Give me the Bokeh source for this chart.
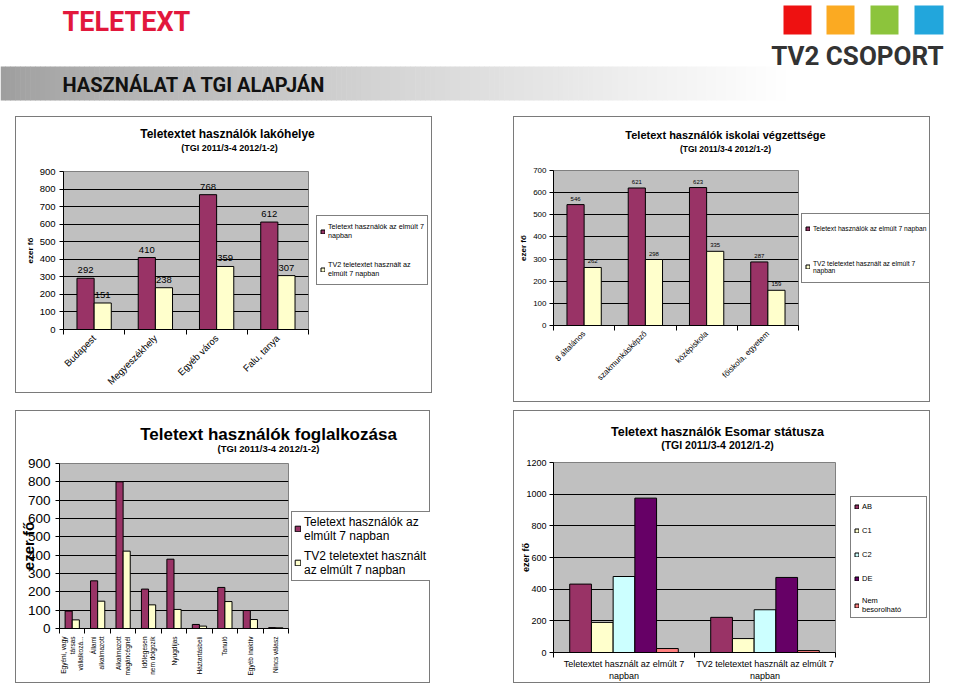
import math
import numpy as np
from bokeh.plotting import figure
from bokeh.models import (Range1d, FixedTicker, Legend, LegendItem,
                          ColumnDataSource, Spacer)
from bokeh.layouts import column, row
from bokeh.embed import file_html
from bokeh.resources import INLINE
from bokeh.core.properties import value

# ---------------- data ----------------
lak_categories = ["Budapest", "Megyeszékhely", "Egyéb város", "Falu, tanya"]
lak_teletext = [292, 410, 768, 612]
lak_tv2 = [151, 238, 359, 307]

isk_categories = ["8 általános", "szakmunkásképző", "középiskola", "főiskola, egyetem"]
isk_teletext = [546, 621, 623, 287]
isk_tv2 = [262, 298, 335, 159]

fog_categories = ["Egyéni, vagy\ntársas\nvállalkozá...", "Állami\nalkalmazott",
                  "Alkalmazott\nmagáncégnél", "Időlegesen\nnem dolgozik", "Nyugdíjas",
                  "Háztartásbeli", "Tanuló", "Egyéb inaktív", "Nincs válasz"]
fog_teletext = [95, 260, 800, 215, 378, 22, 224, 98, 5]
fog_tv2 = [47, 149, 422, 129, 104, 13, 147, 49, 4]

eso_groups = ["Teletextet használt az elmúlt 7\nnapban",
              "TV2 teletextet használt az elmúlt 7\nnapban"]
eso_status = ["AB", "C1", "C2", "DE", "Nem\nbesorolható"]
eso_AB = [432, 222]
eso_C1 = [190, 88]
eso_C2 = [480, 270]
eso_DE = [975, 474]
eso_nem = [25, 12]

lak_series = ["Teletext használók az elmúlt 7\nnapban", "TV2 teletextet használt az\nelmúlt 7 napban"]
isk_series = ["Teletext használók az elmúlt 7 napban", "TV2 teletextet használt az elmúlt 7\nnapban"]
fog_series = ["Teletext használók az\nelmúlt 7 napban", "TV2 teletextet használt\naz elmúlt 7 napban"]

subtitle_text = "(TGI 2011/3-4 2012/1-2)"

# ---------------- styles ----------------
SANS = "Liberation Sans"
HEAD = "Roboto"
MAROON = "#993366"
CREAM = "#ffffcc"
CYAN = "#ccffff"
PURPLE = "#660066"
SALMON = "#ff8080"
PLOT_BG = "#c0c0c0"
BORDER = "1px solid #7a7a7a"


def deco_fig(w, h, sides):
    st = {"box-sizing": "border-box"}
    for s in sides:
        st[f"border-{s}"] = BORDER
    f = figure(width=w, height=h, x_range=Range1d(0, w), y_range=Range1d(h, 0),
               x_axis_type=None, y_axis_type=None, output_backend="svg",
               toolbar_location=None, min_border=0, outline_line_color=None,
               border_fill_color="white", background_fill_color="white")
    f.styles = st
    return f


def title_fig(w, h, title, tsize, tpos, ssize, spos):
    f = deco_fig(w, h, ["top", "left", "right"])
    f.text(x=[tpos[0]], y=[tpos[1]], text=[title], text_font=value(SANS),
           text_font_size=f"{tsize}px", text_font_style="bold", text_color="black",
           text_align="center", text_baseline="middle")
    f.text(x=[spos[0]], y=[spos[1]], text=[subtitle_text], text_font=value(SANS),
           text_font_size=f"{ssize}px", text_font_style="bold", text_color="black",
           text_align="center", text_baseline="middle")
    return f


def chart(w, h, fl, fr, ft, fb, ncat, ymax, ystep, tick_size, tick_standoff):
    p = figure(width=w, height=h, x_range=Range1d(0, ncat), y_range=Range1d(0, ymax),
               output_backend="svg", toolbar_location=None, title=None,
               min_border_left=fl, min_border_right=fr, min_border_top=ft, min_border_bottom=fb,
               background_fill_color=PLOT_BG, border_fill_color="white",
               outline_line_color="#808080")
    p.styles = {"border-left": BORDER, "border-bottom": BORDER, "box-sizing": "border-box"}
    yt = FixedTicker(ticks=list(range(0, ymax + 1, ystep)), minor_ticks=[])
    p.yaxis.ticker = yt
    p.ygrid.ticker = yt
    p.ygrid.grid_line_color = "black"
    p.ygrid.grid_line_width = 1
    p.xgrid.grid_line_color = None
    xt = FixedTicker(ticks=[i + 0.5 for i in range(ncat)], minor_ticks=list(range(ncat + 1)))
    p.xaxis.ticker = xt
    p.axis.axis_line_color = "black"
    p.axis.major_label_text_color = "black"
    p.yaxis.major_tick_out = 4
    p.yaxis.major_tick_in = 0
    p.yaxis.major_tick_line_color = "black"
    p.yaxis.minor_tick_line_color = None
    p.yaxis.major_label_text_font = SANS
    p.yaxis.major_label_text_font_size = f"{tick_size}px"
    p.yaxis.major_label_standoff = tick_standoff
    p.xaxis.major_tick_line_color = None
    p.xaxis.major_tick_out = 5
    p.xaxis.major_tick_in = 0
    p.xaxis.minor_tick_line_color = "black"
    p.xaxis.minor_tick_out = 5
    p.xaxis.minor_tick_in = 0
    return p


def set_xlabels(p, cats, size, orientation, standoff=2):
    p.xaxis.major_label_overrides = {i + 0.5: c for i, c in enumerate(cats)}
    p.xaxis.major_label_text_font = SANS
    p.xaxis.major_label_text_font_size = f"{size}px"
    p.xaxis.major_label_orientation = orientation
    p.xaxis.major_label_standoff = standoff


def set_ylabel(p, size, standoff):
    p.yaxis.axis_label = "ezer fő"
    p.yaxis.axis_label_text_font = SANS
    p.yaxis.axis_label_text_font_size = f"{size}px"
    p.yaxis.axis_label_text_font_style = "bold"
    p.yaxis.axis_label_text_color = "black"
    p.yaxis.axis_label_standoff = standoff


def bars(p, vals, offset, width, color):
    src = ColumnDataSource(dict(x=[i + offset for i in range(len(vals))], top=vals))
    return p.vbar(x="x", top="top", bottom=0, width=width, source=src,
                  fill_color=color, line_color="black", line_width=1)


def value_labels(p, vals, offset, size, dy):
    src = ColumnDataSource(dict(x=[i + offset for i in range(len(vals))], y=vals,
                                t=[str(v) for v in vals]))
    p.text(x="x", y="y", text="t", source=src, text_align="center",
           text_baseline="middle", y_offset=dy, text_font=value(SANS),
           text_font_size=f"{size}px", text_color="black")


def legend_fig(w, h, bottom, labels, series, colors, size, glyph, padding, spacing, margin,
               label_height, label_width):
    # the legend's swatches come from renderers of the real series, kept outside the view
    f = figure(width=w, height=h, x_range=Range1d(-20, -19), y_range=Range1d(0, 1),
               x_axis_type=None, y_axis_type=None, output_backend="svg",
               toolbar_location=None, min_border_left=0, min_border_right=0,
               min_border_top=0, min_border_bottom=bottom, outline_line_color=None,
               border_fill_color="white", background_fill_color="white")
    f.styles = {"border-right": BORDER, "border-bottom": BORDER, "box-sizing": "border-box"}
    items = []
    for lab, vals, col in zip(labels, series, colors):
        r = bars(f, vals, 0.5, 0.3, col)
        items.append(LegendItem(label=lab, renderers=[r]))
    lg = Legend(items=items, location="left", label_text_font=SANS,
                label_text_font_size=f"{size}px", label_text_color="black",
                glyph_width=glyph, glyph_height=glyph, padding=padding, spacing=spacing,
                label_standoff=3, label_width=label_width, label_height=label_height,
                margin=margin, border_line_color="black", border_line_width=1,
                background_fill_color="white", background_fill_alpha=1.0)
    f.add_layout(lg)
    return f


# ---------------- header ----------------
hdr = deco_fig(944, 116, [])
nstrip = 160
edges = np.linspace(0, 790, nstrip + 1)
tt = np.linspace(0, 1, nstrip)
grey = (158 + 97 * tt ** 0.8).astype(int)
hdr.quad(left=edges[:-1], right=edges[1:] + 0.6, top=66, bottom=100,
         fill_color=[f"#{g:02x}{g:02x}{g:02x}" for g in grey], line_color=None)
hdr.text(x=[62], y=[21], text=["TELETEXT"], text_font=value(HEAD), text_font_size="27px",
         text_font_style="bold", text_color="#e2183c", text_baseline="middle")
hdr.text(x=[62], y=[84], text=["HASZNÁLAT A TGI ALAPJÁN"], text_font=value(HEAD),
         text_font_size="20px", text_font_style="bold", text_color="#111111",
         text_baseline="middle")
hdr.quad(left=[783, 826, 870, 914], right=[811, 854, 898, 943], top=[5] * 4, bottom=[34] * 4,
         fill_color=["#ee1111", "#fbaa22", "#8cc43c", "#22a6dc"], line_color=None)
hdr.text(x=[943], y=[55], text=["TV2 CSOPORT"], text_font=value(HEAD), text_font_size="26px",
         text_font_style="bold", text_color="#333333", text_align="right",
         text_baseline="middle")

# ---------------- chart 1: lakóhely ----------------
t1 = title_fig(417, 40, "Teletextet használók lakóhelye", 12, (211, 16), 9, (213, 30))
c1 = chart(295, 237, 47, 3, 15, 62, 4, 900, 100, 9.5, 4)
set_xlabels(c1, lak_categories, 9.5, math.pi / 4)
set_ylabel(c1, 8, 2)
bars(c1, lak_teletext, 0.36, 0.28, MAROON)
bars(c1, lak_tv2, 0.64, 0.28, CREAM)
value_labels(c1, lak_teletext, 0.36, 9.5, -8)
value_labels(c1, lak_tv2, 0.64, 9.5, -8)
l1 = legend_fig(122, 237, 47, lak_series, [lak_teletext, lak_tv2], [MAROON, CREAM],
                7.2, 5, 3, 14, 6, 24, 0)
chart1 = column(t1, row(c1, l1))

# ---------------- chart 2: iskolai végzettség ----------------
t2 = title_fig(417, 40, "Teletext használók iskolai végzettsége", 11, (211, 17), 8.5, (211, 31))
c2 = chart(287, 246, 39, 3, 14, 77, 4, 700, 100, 8, 3)
set_xlabels(c2, isk_categories, 8, math.pi / 4)
set_ylabel(c2, 8, 2)
bars(c2, isk_teletext, 0.36, 0.28, MAROON)
bars(c2, isk_tv2, 0.64, 0.28, CREAM)
value_labels(c2, isk_teletext, 0.36, 6, -6)
value_labels(c2, isk_tv2, 0.64, 6, -6)
l2 = legend_fig(130, 246, 63, isk_series, [isk_teletext, isk_tv2], [MAROON, CREAM],
                6.7, 5, 3, 14, 1, 24, 0)
chart2 = column(t2, row(c2, l2))

# ---------------- chart 3: foglalkozás ----------------
t3 = title_fig(415, 44, "Teletext használók foglalkozása", 17, (252, 23), 9.5, (252, 37))
c3 = chart(275, 229, 42, 3, 9, 55, 9, 900, 100, 13.5, 5)
set_xlabels(c3, fog_categories, 6.5, math.pi / 2, standoff=3)
set_ylabel(c3, 15, -12)
bars(c3, fog_teletext, 0.36, 0.28, MAROON)
bars(c3, fog_tv2, 0.64, 0.28, CREAM)
l3 = legend_fig(140, 229, 43, fog_series, [fog_teletext, fog_tv2], [MAROON, CREAM],
                12, 7, 2, 4, 1, 30, 125)
chart3 = column(t3, row(c3, l3))

# ---------------- chart 4: Esomar ----------------
t4 = title_fig(417, 44, "Teletext használók Esomar státusza", 12.5, (203, 20), 10.5, (203, 33))
c4 = chart(324, 229, 39, 3, 8, 28, 2, 1200, 200, 9, 3)
set_xlabels(c4, eso_groups, 9, "horizontal", standoff=1)
set_ylabel(c4, 9, -8)
bw = 0.154
eso_series = [eso_AB, eso_C1, eso_C2, eso_DE, eso_nem]
eso_colors = [MAROON, CREAM, CYAN, PURPLE, SALMON]
for k, (vals, col) in enumerate(zip(eso_series, eso_colors)):
    bars(c4, vals, 0.5 + (k - 2) * bw, bw, col)
l4 = legend_fig(93, 229, 20, eso_status, eso_series, eso_colors, 7.5, 5, 3, 12, 13, 12, 61)
chart4 = column(t4, row(c4, l4))

layout = column(
    hdr,
    row(Spacer(width=15), chart1, Spacer(width=81), chart2),
    Spacer(height=8),
    row(Spacer(width=15), chart3, Spacer(width=83), chart4),
)

open("out.html", "w").write(file_html(layout, INLINE))
